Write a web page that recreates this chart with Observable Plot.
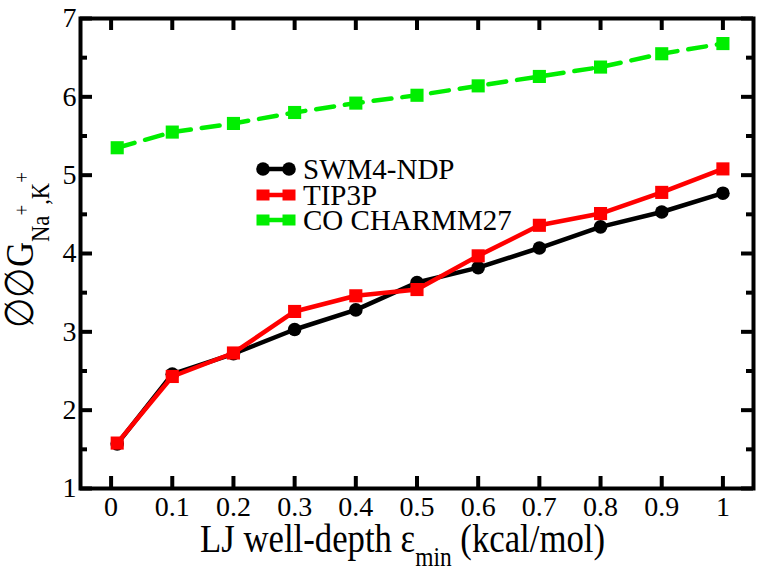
<!DOCTYPE html>
<html><head><meta charset="utf-8">
<script src="https://cdn.jsdelivr.net/npm/d3@7"></script>
<script src="https://cdn.jsdelivr.net/npm/@observablehq/plot@0.6"></script>
<style>
body{margin:0;background:#fff}
#chart svg{display:block; font-family: "Liberation Serif", "DejaVu Serif", serif !important;}
#chart svg text{font-family: "Liberation Serif", "DejaVu Serif", serif !important; fill:#000;}
#chart svg text.sym{font-family: "DejaVu Serif", serif !important;}
</style>
</head><body><div id="chart"></div>
<script>
// ---- data ----
const eps = [0.01, 0.1, 0.2, 0.3, 0.4, 0.5, 0.6, 0.7, 0.8, 0.9, 1.0];
const swm4ndp = [1.57, 2.46, 2.72, 3.03, 3.28, 3.63, 3.82, 4.07, 4.34, 4.53, 4.77];
const tip3p   = [1.58, 2.43, 2.73, 3.26, 3.46, 3.54, 3.97, 4.36, 4.51, 4.78, 5.08];
const charmm  = [5.35, 5.55, 5.66, 5.80, 5.92, 6.02, 6.14, 6.26, 6.38, 6.55, 6.68];
const seriesNames = ["SWM4-NDP", "TIP3P", "CO CHARMM27"];
const xTicks = [0, 0.1, 0.2, 0.3, 0.4, 0.5, 0.6, 0.7, 0.8, 0.9, 1];
const xTickLabels = ["0", "0.1", "0.2", "0.3", "0.4", "0.5", "0.6", "0.7", "0.8", "0.9", "1"];
const yTicks = [1, 2, 3, 4, 5, 6, 7];
const yTickLabels = ["1", "2", "3", "4", "5", "6", "7"];
const yMinorTicks = [1.5, 2.5, 3.5, 4.5, 5.5, 6.5];

// ---- styles ----
const colors = ["#000000", "#ff0000", "#00ee00"];
const symbols = ["circle", "square", "square"];

const rows = (vals) => eps.map((x, i) => ({x, y: vals[i]}));
const sets = [swm4ndp, tip3p, charmm].map(rows);

const xDom = [-0.05, 1.05], yDom = [1, 7];
const W = 762, H = 569, mL = 80, mR = 9, mT = 18, mB = 81;
const xpx = (xDom[1] - xDom[0]) / (W - mL - mR); // data units per px
const ypx = (yDom[1] - yDom[0]) / (H - mT - mB);
const majLen = 12, minLen = 7;

const seriesMark = (k, dash) => [
  Plot.line(sets[k], {x: "x", y: "y", stroke: colors[k], strokeWidth: 4.5, strokeDasharray: dash}),
  Plot.dot(sets[k], {x: "x", y: "y", fill: colors[k], symbol: symbols[k], r: symbols[k] === "circle" ? 6.8 : 7.4})
];

const chart = Plot.plot({
  width: W, height: H,
  marginLeft: mL, marginRight: mR, marginTop: mT, marginBottom: mB,
  x: {domain: xDom, label: null},
  y: {domain: yDom, label: null},
  marks: [
    ...seriesMark(2, "18,11"),
    ...seriesMark(0, null),
    ...seriesMark(1, null),
    // inward ticks: bottom & top
    Plot.ruleX(xTicks, {x: d => d, y1: yDom[0], y2: yDom[0] + majLen * ypx, stroke: "black", strokeWidth: 4}),
    Plot.ruleX(xTicks, {x: d => d, y1: yDom[1], y2: yDom[1] - majLen * ypx, stroke: "black", strokeWidth: 4}),
    // inward ticks: left & right
    Plot.ruleY(yTicks, {y: d => d, x1: xDom[0], x2: xDom[0] + majLen * xpx, stroke: "black", strokeWidth: 4}),
    Plot.ruleY(yTicks, {y: d => d, x1: xDom[1], x2: xDom[1] - majLen * xpx, stroke: "black", strokeWidth: 4}),
    Plot.ruleY(yMinorTicks, {y: d => d, x1: xDom[0], x2: xDom[0] + minLen * xpx, stroke: "black", strokeWidth: 4}),
    Plot.ruleY(yMinorTicks, {y: d => d, x1: xDom[1], x2: xDom[1] - minLen * xpx, stroke: "black", strokeWidth: 4}),
    Plot.axisX(xTicks, {tickSize: 0, tickPadding: 8, fontSize: 28, label: null,
      tickFormat: d => xTickLabels[xTicks.indexOf(d)]}),
    Plot.axisY(yTicks, {tickSize: 0, tickPadding: 4, fontSize: 28, label: null,
      tickFormat: d => yTickLabels[yTicks.indexOf(d)]}),
    Plot.frame({stroke: "black", strokeWidth: 4})
  ]
});

const svg = d3.select(chart);

// x-axis title
const xt = svg.append("text")
  .attr("x", 200).attr("y", 552).attr("text-anchor", "start")
  .attr("font-size", 40)
  .attr("textLength", 405).attr("lengthAdjust", "spacingAndGlyphs");
xt.append("tspan").text("LJ well-depth ε");
xt.append("tspan").attr("font-size", 27).attr("dy", 14).text("min");
xt.append("tspan").attr("dy", -14).text(" (kcal/mol)");

// y-axis title (rotated)
const yt = svg.append("text")
  .attr("transform", "translate(33,328) rotate(-90)").attr("text-anchor", "start")
  .attr("font-size", 40)
  .attr("textLength", 156).attr("lengthAdjust", "spacingAndGlyphs");
yt.append("tspan").text("∅∅G");
yt.append("tspan").attr("font-size", 26).attr("dy", 16).text("Na");
yt.append("tspan").attr("font-size", 22).attr("dy", -20).text("+");
yt.append("tspan").attr("font-size", 26).attr("dy", 20).text(",K");
yt.append("tspan").attr("font-size", 22).attr("dy", -20).text("+");

// legend
const legendY = [169, 195, 220];
const lg = svg.append("g");
seriesNames.forEach((name, k) => {
  const cy = legendY[k];
  lg.append("line").attr("x1", 263).attr("x2", 289).attr("y1", cy).attr("y2", cy)
    .attr("stroke", colors[k]).attr("stroke-width", 4.5);
  [263, 289].forEach(cx => {
    if (symbols[k] === "circle") {
      lg.append("circle").attr("cx", cx).attr("cy", cy).attr("r", 6.8).attr("fill", colors[k]);
    } else {
      lg.append("rect").attr("x", cx - 6.5).attr("y", cy - 5.5).attr("width", 13).attr("height", 11).attr("fill", colors[k]);
    }
  });
  lg.append("text").attr("x", 303).attr("y", cy + 10).attr("text-anchor", "start")
    .attr("font-size", 29).text(name);
});

document.getElementById("chart").appendChild(chart);
</script>
</body></html>
